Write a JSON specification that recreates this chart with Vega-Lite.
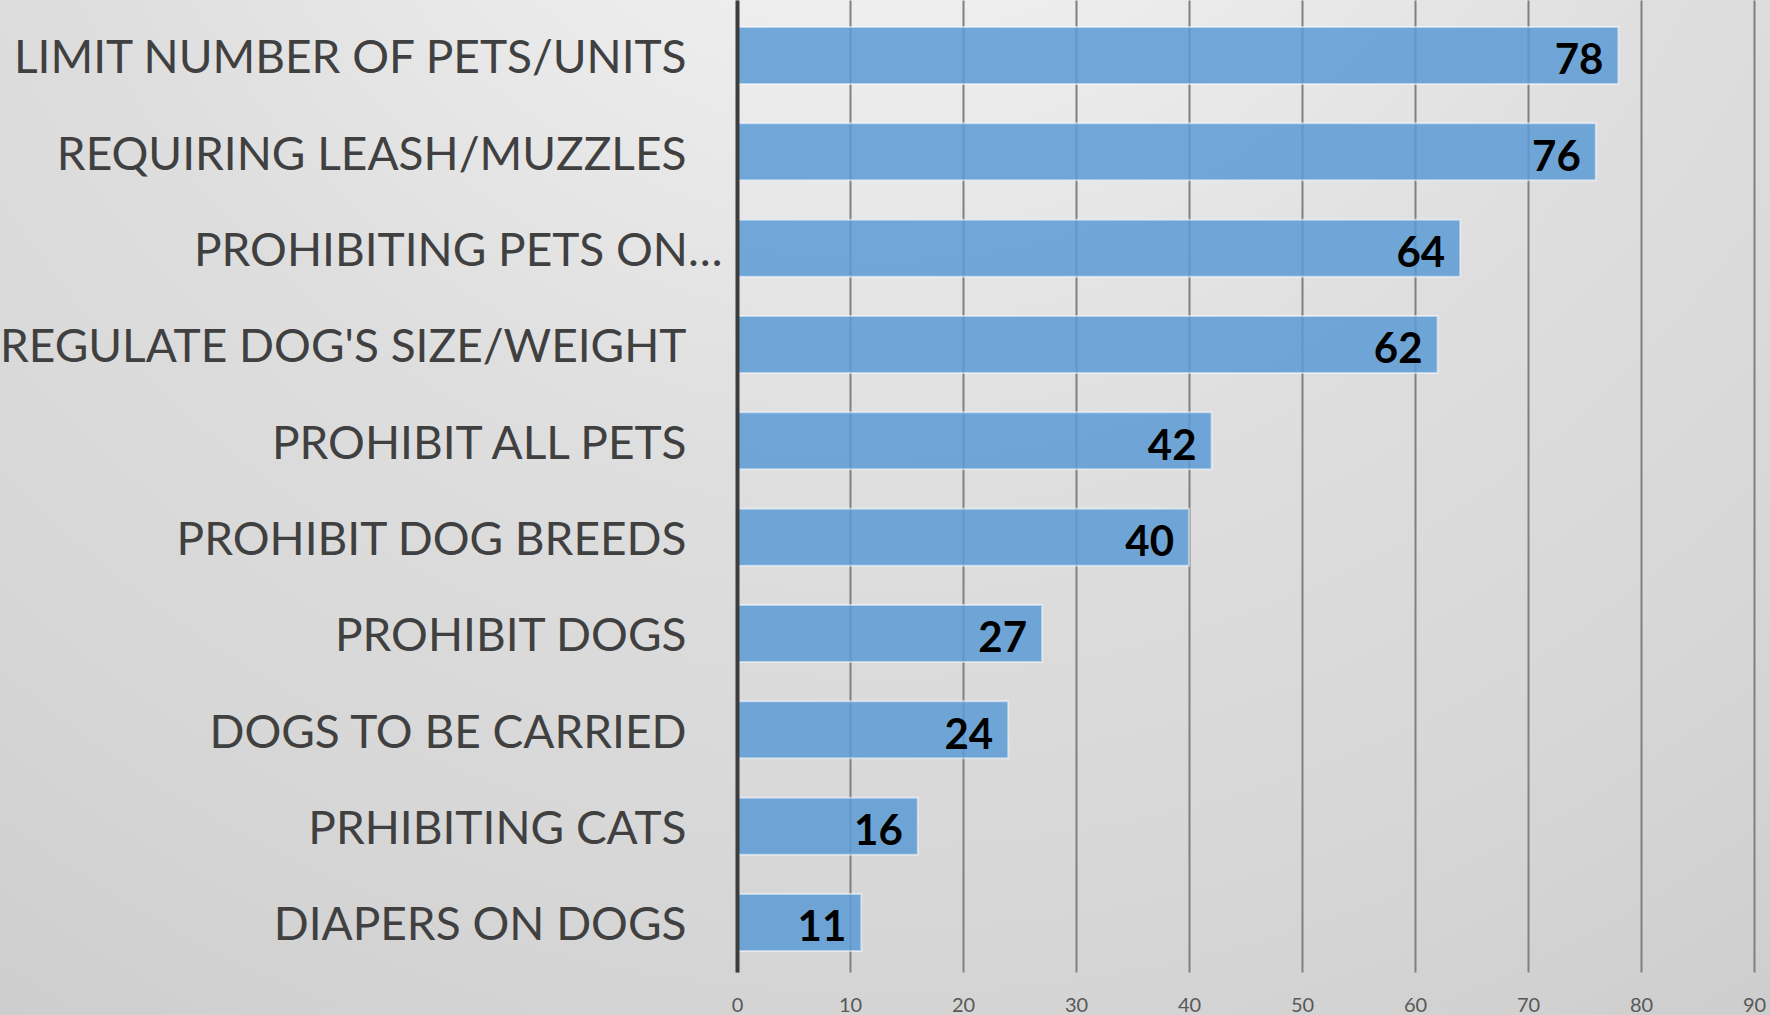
{
  "$schema": "https://vega.github.io/schema/vega-lite/v6.json",
  "width": 1770,
  "height": 1015,
  "autosize": {"type": "none"},
  "padding": 0,
  "background": "#cfcfcf",
  "view": {
    "stroke": null,
    "fill": {
      "gradient": "radial",
      "x1": 0.5, "y1": 0, "r1": 0,
      "x2": 0.5, "y2": 0, "r2": 1.1,
      "stops": [
        {"offset": 0, "color": "#f7f7f7"},
        {"offset": 0.23, "color": "#ececec"},
        {"offset": 0.45, "color": "#dedede"},
        {"offset": 0.68, "color": "#d6d6d6"},
        {"offset": 1, "color": "#c6c6c6"}
      ]
    }
  },
  "data": {
    "values": [
      {"rule": "LIMIT NUMBER OF PETS/UNITS", "count": 78},
      {"rule": "REQUIRING LEASH/MUZZLES", "count": 76},
      {"rule": "PROHIBITING PETS ON…", "count": 64},
      {"rule": "REGULATE DOG'S SIZE/WEIGHT", "count": 62},
      {"rule": "PROHIBIT ALL PETS", "count": 42},
      {"rule": "PROHIBIT DOG BREEDS", "count": 40},
      {"rule": "PROHIBIT DOGS", "count": 27},
      {"rule": "DOGS TO BE CARRIED", "count": 24},
      {"rule": "PRHIBITING CATS", "count": 16},
      {"rule": "DIAPERS ON DOGS", "count": 11}
    ]
  },
  "encoding": {
    "y": {
      "field": "rule",
      "type": "nominal",
      "sort": null,
      "scale": {"range": [0, 972], "paddingInner": 0.408, "paddingOuter": 0.249, "align": 0.5625},
      "axis": {
        "title": null,
        "orient": "left",
        "offset": -737,
        "zindex": 2,
        "domain": true,
        "domainColor": "#3d3d3d",
        "domainWidth": 4,
        "ticks": false,
        "tickSize": 0,
        "grid": false,
        "labelPadding": {
          "condition": {"test": "datum.value == 'PROHIBITING PETS ON…'", "value": 15},
          "value": 51
        },
        "labelLimit": 1200,
        "labelFont": "Lato",
        "labelFontSize": 46,
        "labelColor": "#404040",
        "labelAlign": "right",
        "labelBaseline": "alphabetic",
        "labelOffset": 18
      }
    }
  },
  "layer": [
    {
      "mark": {
        "type": "bar",
        "color": "#5b9bd5",
        "fillOpacity": 0.85,
        "stroke": "#ffffff",
        "strokeOpacity": 0.5,
        "strokeWidth": 2
      },
      "encoding": {
        "x": {
          "field": "count",
          "type": "quantitative",
          "scale": {"domain": [0, 90], "range": [737, 1754], "nice": false},
          "axis": {
            "title": null,
            "orient": "bottom",
            "values": [0, 10, 20, 30, 40, 50, 60, 70, 80, 90],
            "grid": false,
            "domain": false,
            "ticks": false,
            "tickSize": 0,
            "labelFlush": false,
            "labelPadding": -20,
            "labelFont": "Lato",
            "labelFontSize": 20,
            "labelColor": "#595959"
          }
        },
        "x2": {"datum": 0}
      }
    },
    {
      "mark": {
        "type": "text",
        "align": "right",
        "baseline": "alphabetic",
        "dx": -15,
        "dy": 19,
        "font": "Lato",
        "fontWeight": "bold",
        "fontSize": 42,
        "color": "#000000"
      },
      "encoding": {
        "x": {
          "field": "count",
          "type": "quantitative",
          "axis": {
            "title": null,
            "orient": "top",
            "values": [0, 10, 20, 30, 40, 50, 60, 70, 80, 90],
            "grid": true,
            "gridColor": "#808080",
            "gridWidth": 2,
            "domain": false,
            "ticks": false,
            "labels": false,
            "zindex": 0
          }
        },
        "text": {"field": "count", "type": "quantitative"}
      }
    }
  ],
  "resolve": {"axis": {"x": "independent"}}
}
